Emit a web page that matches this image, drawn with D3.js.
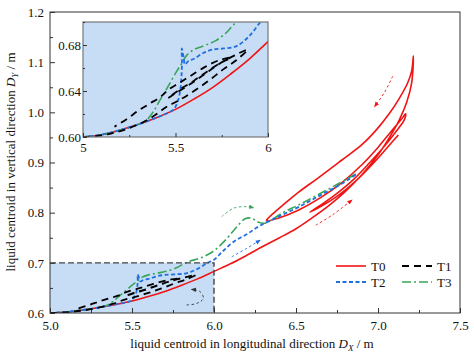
<!DOCTYPE html>
<html><head><meta charset="utf-8">
<script src="https://cdn.jsdelivr.net/npm/d3@7"></script>
<style>
body{margin:0;background:#fff}
text{font-family:"Liberation Serif","Times New Roman",serif;fill:#111}
</style>
</head><body>
<svg id="c" width="474" height="357"></svg>
<script>
// ---------- data ----------
const seriesNames = ["T0","T1","T2","T3"];
const t0 = [[5.00,0.600],[5.10,0.602],[5.20,0.606],[5.30,0.611],[5.40,0.617],[5.50,0.624],[5.60,0.633],[5.70,0.643],[5.80,0.655],[5.90,0.668],[6.00,0.683],[6.10,0.698],[6.20,0.715],[6.30,0.733],[6.40,0.750],[6.50,0.768],[6.60,0.790],[6.70,0.814],[6.80,0.842],[6.90,0.875],[7.00,0.915],[7.07,0.950],[7.13,0.985],[7.175,1.020],[7.205,1.058],[7.216,1.112],
 [7.205,1.082],[7.18,1.058],[7.13,1.028],[7.07,0.998],[6.99,0.965],[6.90,0.935],[6.78,0.905],[6.63,0.868],[6.52,0.842],[6.42,0.815],[6.36,0.798],[6.33,0.789],[6.32,0.784],
 [6.40,0.790],[6.52,0.806],[6.65,0.830],[6.78,0.860],[6.90,0.895],[7.00,0.930],[7.08,0.962],[7.14,0.985],[7.168,0.997],
 [7.16,0.985],[7.11,0.962],[7.04,0.933],[6.95,0.900],[6.85,0.866],[6.74,0.836],[6.65,0.815],[6.585,0.801],
 [6.65,0.812],[6.76,0.835],[6.88,0.868],[6.99,0.905],[7.07,0.935],[7.124,0.955]];
const t1 = [[5.00,0.600],[5.08,0.601],[5.15,0.603],[5.22,0.606],[5.30,0.611],[5.38,0.618],[5.45,0.626],[5.52,0.632],[5.60,0.640],[5.68,0.649],[5.76,0.659],[5.83,0.667],[5.89,0.676],
 [5.82,0.671],[5.74,0.664],[5.66,0.655],[5.58,0.646],[5.50,0.638],[5.46,0.634],
 [5.52,0.641],[5.60,0.649],[5.68,0.658],[5.75,0.665],[5.80,0.669],
 [5.74,0.667],[5.66,0.661],[5.58,0.653],[5.52,0.647],[5.46,0.641],[5.42,0.635],[5.36,0.629],[5.30,0.623],[5.24,0.616],[5.17,0.609]];
const t2 = [[5.00,0.600],[5.10,0.602],[5.20,0.606],[5.30,0.611],[5.40,0.617],[5.46,0.621],[5.49,0.624],[5.51,0.630],[5.525,0.640],[5.532,0.652],[5.535,0.665],[5.534,0.677],[5.545,0.668],[5.551,0.663],[5.57,0.666],[5.60,0.668],[5.65,0.673],[5.70,0.676],[5.76,0.677],[5.83,0.679],[5.90,0.688],[5.96,0.700],[6.00,0.706],[6.05,0.722],[6.12,0.742],[6.20,0.757],[6.28,0.774],[6.40,0.793],[6.52,0.812],[6.65,0.835],[6.77,0.856],[6.87,0.877]];
const t3 = [[5.00,0.600],[5.10,0.602],[5.20,0.606],[5.30,0.611],[5.345,0.615],[5.38,0.622],[5.416,0.632],[5.46,0.644],[5.506,0.657],[5.534,0.664],[5.56,0.671],[5.60,0.676],[5.632,0.678],[5.68,0.681],[5.72,0.684],[5.77,0.690],[5.81,0.697],[5.85,0.703],[5.92,0.710],[6.00,0.724],[6.08,0.749],[6.14,0.772],[6.19,0.788],[6.23,0.789],[6.27,0.781],[6.31,0.779],[6.42,0.800],[6.52,0.816],[6.63,0.835],[6.76,0.858],[6.87,0.878]];
// direction annotations (data units)
const arrowT0a = [[7.09,1.072],[7.04,1.040],[6.98,1.012]];
const arrowT0b = [[6.62,0.775],[6.72,0.795],[6.84,0.825]];
const arrowT1 = [[5.833,0.616],[5.894,0.619],[5.935,0.629],[5.915,0.6425],[5.864,0.647]];
const arrowT2 = [[6.108,0.712],[6.19,0.727],[6.28,0.745]];
const arrowT3 = [[6.047,0.792],[6.12,0.809],[6.20,0.812],[6.24,0.810]];
const zoomBox = [[5.0,6.0],[0.6,0.7]];
// ticks
const xTicks = [5.0,5.5,6.0,6.5,7.0,7.5];
const xTickLabels = ["5.0","5.5","6.0","6.5","7.0","7.5"];
const yTicks = [0.6,0.7,0.8,0.9,1.0,1.1,1.2];
const yTickLabels = ["0.6","0.7","0.8","0.9","1.0","1.1","1.2"];
const xMinor = [5.25,5.75,6.25,6.75,7.25];
const yMinor = [0.65,0.75,0.85,0.95,1.05,1.15];
const ixTicks = [5,5.5,6];
const ixTickLabels = ["5","5.5","6"];
const iyTicks = [0.60,0.64,0.68];
const iyTickLabels = ["0.60","0.64","0.68"];
const ixMinor = [5.25,5.75];
const iyMinor = [0.62,0.66,0.70];

// ---------- styles ----------
const colors = {T0:"#f01414",T1:"#000000",T2:"#1f6fe0",T3:"#3aa55a"};
const dashes = {T0:null,T1:"7,5",T2:"4,2.5",T3:"9,3,2,3"};
const widths = {T0:1.6,T1:1.8,T2:1.8,T3:1.6};
const data = {T0:t0,T1:t1,T2:t2,T3:t3};

const svg = d3.select("#c");
const x = d3.scaleLinear().domain([5,7.5]).range([50,460]);
const y = d3.scaleLinear().domain([0.6,1.2]).range([313,12]);
const xi = d3.scaleLinear().domain([5,6]).range([83,268]);
const yi = d3.scaleLinear().domain([0.6,0.7]).range([137,22]);
const fill = "#c7dcf5";

const defs = svg.append("defs");
function mk(id,color){
  defs.append("marker").attr("id",id).attr("viewBox","0 0 10 10").attr("refX",8).attr("refY",5)
   .attr("markerWidth",6).attr("markerHeight",6).attr("orient","auto-start-reverse")
   .append("path").attr("d","M0,1 L10,5 L0,9 z").attr("fill",color);
}
mk("ar","#f01414");mk("ak","#333");mk("ab","#1f6fe0");mk("ag","#3aa55a");
defs.append("clipPath").attr("id","mainclip").append("rect").attr("x",50).attr("y",12).attr("width",410).attr("height",301);
defs.append("clipPath").attr("id","insclip").append("rect").attr("x",83).attr("y",22).attr("width",185).attr("height",115);

// zoom box fill
svg.append("rect").attr("x",x(zoomBox[0][0])).attr("y",y(zoomBox[1][1]))
  .attr("width",x(zoomBox[0][1])-x(zoomBox[0][0])).attr("height",y(zoomBox[1][0])-y(zoomBox[1][1]))
  .attr("fill",fill);

function drawSeries(g,xs,ys){
  const line = d3.line().x(d=>xs(d[0])).y(d=>ys(d[1])).curve(d3.curveCatmullRom.alpha(0.5));
  ["T0","T3","T2","T1"].forEach(k=>{
    g.append("path").attr("d",line(data[k])).attr("fill","none").attr("stroke",colors[k])
     .attr("stroke-width",widths[k]).attr("stroke-dasharray",dashes[k]).attr("stroke-linejoin","round");
  });
}
const gm = svg.append("g").attr("clip-path","url(#mainclip)");
drawSeries(gm,x,y);

// annotations
const aline = d3.line().x(d=>x(d[0])).y(d=>y(d[1])).curve(d3.curveCatmullRom.alpha(0.5));
function arrow(pts,color,mid){
  svg.append("path").attr("d",aline(pts)).attr("fill","none").attr("stroke",color).attr("stroke-width",0.9)
   .attr("stroke-dasharray","2.5,2.5").attr("marker-end",`url(#${mid})`);
}
arrow(arrowT0a,"#f01414","ar");
arrow(arrowT0b,"#f01414","ar");
arrow(arrowT1,"#333","ak");
arrow(arrowT2,"#1f6fe0","ab");
arrow(arrowT3,"#3aa55a","ag");

// zoom box dashed border
svg.append("path").attr("d",`M${x(5)},${y(0.7)} L${x(6)},${y(0.7)} L${x(6)},${y(0.6)}`)
  .attr("fill","none").attr("stroke","#444").attr("stroke-width",1.4).attr("stroke-dasharray","6,3");

// main frame
svg.append("rect").attr("x",50).attr("y",12).attr("width",410).attr("height",301)
  .attr("fill","none").attr("stroke","#333").attr("stroke-width",1);

// main axes
function styleAxis(g){g.select(".domain").remove();g.selectAll("line").attr("stroke","#333");g.selectAll("text").attr("font-size",13).attr("font-family","Liberation Serif, serif").attr("fill","#111");}
svg.append("g").attr("transform","translate(0,313)")
 .call(d3.axisBottom(x).tickValues(xTicks).tickFormat((d,i)=>xTickLabels[i]).tickSize(-5).tickPadding(8)).call(styleAxis);
svg.append("g").attr("transform","translate(0,313)")
 .call(d3.axisBottom(x).tickValues(xMinor).tickFormat("").tickSize(-3)).call(styleAxis);
svg.append("g").attr("transform","translate(50,0)")
 .call(d3.axisLeft(y).tickValues(yTicks).tickFormat((d,i)=>yTickLabels[i]).tickSize(-5).tickPadding(6)).call(styleAxis);
svg.append("g").attr("transform","translate(50,0)")
 .call(d3.axisLeft(y).tickValues(yMinor).tickFormat("").tickSize(-3)).call(styleAxis);

// axis titles
const xl = svg.append("text").attr("x",252).attr("y",348).attr("text-anchor","middle").attr("font-size",13);
xl.append("tspan").text("liquid centroid in longitudinal direction ");
xl.append("tspan").attr("font-style","italic").text("D");
xl.append("tspan").attr("font-style","italic").attr("font-size",9).attr("dy",3).text("X");
xl.append("tspan").attr("dy",-3).text(" / m");
const yl = svg.append("text").attr("transform","translate(15,162) rotate(-90)").attr("text-anchor","middle").attr("font-size",13);
yl.append("tspan").text("liquid centroid in vertical direction ");
yl.append("tspan").attr("font-style","italic").text("D");
yl.append("tspan").attr("font-style","italic").attr("font-size",9).attr("dy",3).text("Y");
yl.append("tspan").attr("dy",-3).text(" / m");

// inset
svg.append("rect").attr("x",83).attr("y",22).attr("width",185).attr("height",115).attr("fill",fill);
const gi = svg.append("g").attr("clip-path","url(#insclip)");
drawSeries(gi,xi,yi);
svg.append("rect").attr("x",83).attr("y",22).attr("width",185).attr("height",115).attr("fill","none").attr("stroke","#777").attr("stroke-width",1.2);
svg.append("g").attr("transform","translate(0,137)")
 .call(d3.axisBottom(xi).tickValues(ixTicks).tickFormat((d,i)=>ixTickLabels[i]).tickSize(-4).tickPadding(6)).call(styleAxis);
svg.append("g").attr("transform","translate(0,137)")
 .call(d3.axisBottom(xi).tickValues(ixMinor).tickFormat("").tickSize(-2)).call(styleAxis);
svg.append("g").attr("transform","translate(83,0)")
 .call(d3.axisLeft(yi).tickValues(iyTicks).tickFormat((d,i)=>iyTickLabels[i]).tickSize(-4).tickPadding(2)).call(styleAxis);
svg.append("g").attr("transform","translate(83,0)")
 .call(d3.axisLeft(yi).tickValues(iyMinor).tickFormat("").tickSize(-2)).call(styleAxis);

// legend
const leg = [{k:"T0",x:336,y:266},{k:"T1",x:402,y:266},{k:"T2",x:336,y:282},{k:"T3",x:402,y:282}];
leg.forEach(l=>{
  svg.append("line").attr("x1",l.x).attr("x2",l.x+30).attr("y1",l.y).attr("y2",l.y)
   .attr("stroke",colors[l.k]).attr("stroke-width",widths[l.k]).attr("stroke-dasharray",dashes[l.k]);
  svg.append("text").attr("x",l.x+35).attr("y",l.y+4.5).attr("font-size",13).text(l.k);
});
</script>
</body></html>
